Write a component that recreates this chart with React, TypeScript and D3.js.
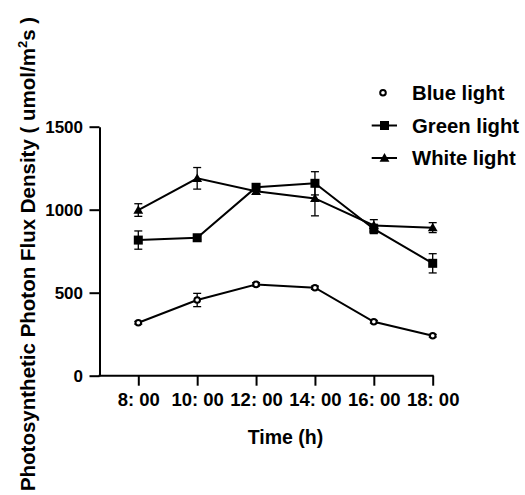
import { useEffect, useRef } from "react";
import * as d3 from "d3";

// ---- data ----
const times = ["8: 00", "10: 00", "12: 00", "14: 00", "16: 00", "18: 00"];

const blueMean = [319, 456, 550, 530, 325, 241];
const blueErr = [8, 40, 10, 10, 8, 8];

const greenMean = [817, 831, 1135, 1159, 884, 677];
const greenErr = [55, 12, 15, 70, 28, 58];

const whiteMean = [998, 1189, 1111, 1068, 905, 892];
const whiteErr = [38, 65, 15, 105, 35, 30];

const yTicks = [0, 500, 1000, 1500];

const seriesNames = ["Blue light", "Green light", "White light"];

const FONT = "'Liberation Sans', Arial, Helvetica, sans-serif";

const W = 525;
const H = 495;
const margin = { top: 126.7, right: 92, bottom: 119.3, left: 99.5 };

function Marker({ kind, x, y }: { kind: string; x: number; y: number }) {
    if (kind === "circle") {
        return <circle cx={x} cy={y} r={2.8} fill="#fff" stroke="#000" strokeWidth={2} />;
    }
    if (kind === "square") {
        return <rect x={x - 4.5} y={y - 4.5} width={9} height={9} fill="#000" />;
    }
    const tri = d3.symbol().type(d3.symbolTriangle).size(42)();
    return <path d={tri || ""} transform={`translate(${x},${y + 0.8})`} fill="#000" />;
}

export default function App() {
    const xAxisRef = useRef<SVGGElement>(null);
    const yAxisRef = useRef<SVGGElement>(null);

    const x = d3
        .scalePoint<string>()
        .domain(times)
        .range([138.3, 432.7]);

    const y = d3
        .scaleLinear()
        .domain([0, 1500])
        .range([H - margin.bottom, margin.top]);

    const series = [
        { name: seriesNames[0], mean: blueMean, err: blueErr, marker: "circle" },
        { name: seriesNames[1], mean: greenMean, err: greenErr, marker: "square" },
        { name: seriesNames[2], mean: whiteMean, err: whiteErr, marker: "triangle" },
    ];

    const line = d3
        .line<number>()
        .x((_, i) => x(times[i]) as number)
        .y((d) => y(d));

    useEffect(() => {
        // x axis (ticks + labels only, the base line is drawn below)
        const xAxis = d3.axisBottom(x).tickSize(10).tickSizeOuter(0).tickPadding(7);
        const gx = d3.select(xAxisRef.current!).call(xAxis);
        gx.select(".domain").remove();
        gx.selectAll(".tick line").attr("stroke", "#000").attr("stroke-width", 2);
        gx.selectAll(".tick text")
            .attr("font-family", FONT)
            .attr("font-weight", "bold")
            .attr("font-size", 18.5)
            .attr("fill", "#000");

        // y axis
        const yAxis = d3
            .axisLeft(y)
            .tickValues(yTicks)
            .tickFormat(d3.format("d"))
            .tickSize(10)
            .tickSizeOuter(0)
            .tickPadding(6.5);
        const gy = d3.select(yAxisRef.current!).call(yAxis);
        gy.select(".domain").attr("stroke", "#000").attr("stroke-width", 2);
        gy.selectAll(".tick line").attr("stroke", "#000").attr("stroke-width", 2);
        gy.selectAll(".tick text")
            .attr("font-family", FONT)
            .attr("font-weight", "bold")
            .attr("font-size", 17)
            .attr("fill", "#000");
    }, []);

    const y0 = y(0);
    const legendY = [92.7, 125.5, 158];

    return (
        <svg
            width={W}
            height={H}
            style={{ position: "absolute", left: 0, top: 0, background: "#fff" }}
            fontFamily={FONT}
        >
            {/* base line of the x axis */}
            <line x1={margin.left - 1} x2={432.7 + 1} y1={y0} y2={y0} stroke="#000" strokeWidth={2} />
            <g ref={xAxisRef} transform={`translate(0,${y0})`} />
            <g ref={yAxisRef} transform={`translate(${margin.left},0)`} />

            {/* series */}
            {series.map((s) => (
                <g key={s.name}>
                    <path d={line(s.mean) || ""} fill="none" stroke="#000" strokeWidth={2} />
                    {s.mean.map((m, i) => {
                        const cx = x(times[i]) as number;
                        const e = s.err[i];
                        return (
                            <g key={i} stroke="#000" strokeWidth={1.3}>
                                <line x1={cx} x2={cx} y1={y(m - e)} y2={y(m + e)} />
                                <line x1={cx - 4} x2={cx + 4} y1={y(m - e)} y2={y(m - e)} />
                                <line x1={cx - 4} x2={cx + 4} y1={y(m + e)} y2={y(m + e)} />
                            </g>
                        );
                    })}
                    {s.mean.map((m, i) => (
                        <Marker key={i} kind={s.marker} x={x(times[i]) as number} y={y(m)} />
                    ))}
                </g>
            ))}

            {/* legend */}
            {series.map((s, i) => (
                <g key={s.name}>
                    {s.marker !== "circle" && (
                        <line x1={371.7} x2={397} y1={legendY[i]} y2={legendY[i]} stroke="#000" strokeWidth={2} />
                    )}
                    <Marker kind={s.marker} x={s.marker === "circle" ? 383 : 384.5} y={legendY[i]} />
                    <text
                        x={412}
                        y={legendY[i] + 7}
                        fontSize={20.3}
                        fontWeight="bold"
                        fill="#000"
                    >
                        {s.name}
                    </text>
                </g>
            ))}

            {/* axis titles */}
            <text x={285.5} y={444} textAnchor="middle" fontSize={19.5} fontWeight="bold" fill="#000">
                Time (h)
            </text>
            <text
                transform={`translate(35,254) rotate(-90)`}
                textAnchor="middle"
                fontSize={20.5}
                fontWeight="bold"
                fill="#000"
            >
                Photosynthetic Photon Flux Density ( umol/m
                <tspan fontSize={13} dy={-8}>2</tspan>
                <tspan dy={8}>s )</tspan>
            </text>
        </svg>
    );
}
